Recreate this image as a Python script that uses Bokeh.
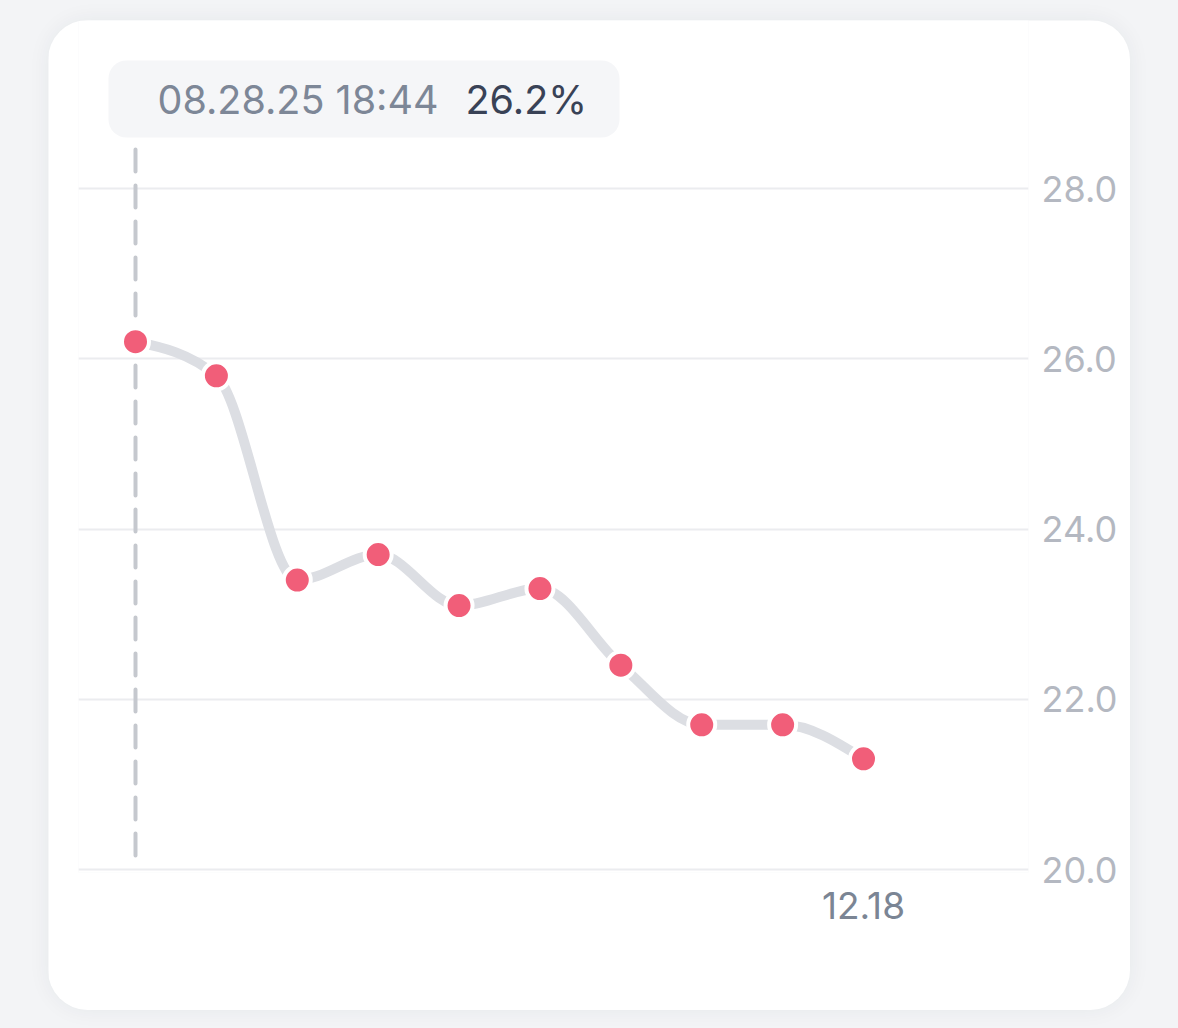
from bokeh.plotting import figure
from bokeh.models import Range1d, FixedTicker, PrintfTickFormatter, BoxAnnotation, Label
from bokeh.layouts import column
from bokeh.embed import file_html
from bokeh.resources import INLINE

# ---------------- data ----------------
values = [26.2, 25.8, 23.4, 23.7, 23.1, 23.3, 22.4, 21.7, 21.7, 21.3]
point_index = list(range(len(values)))
x_tick_labels = {9: "12.18"}
y_ticks = [20, 22, 24, 26, 28]
selected_index = 0
selected_time = "08.28.25 18:44"

# ---------------- layout constants (pixels) ----------------
FIG_W, FIG_H = 1082, 990
BORDER_L, BORDER_R, BORDER_T, BORDER_B = 30, 102, 0, 138
FRAME_W = FIG_W - BORDER_L - BORDER_R
FRAME_H = FIG_H - BORDER_T - BORDER_B
PX_X = 80.89          # pixels per index step
PX_Y = 85.125         # pixels per value unit
FIRST_PT_OFF = 57     # first point distance from frame left
BASE_OFF = 3          # gridline 20 distance above frame bottom

x_start = point_index[0] - FIRST_PT_OFF / PX_X
y_start = y_ticks[0] - BASE_OFF / PX_Y

FONT = "Inter"

p = figure(width=FIG_W, height=FIG_H, output_backend="svg", toolbar_location=None,
           x_range=Range1d(x_start, x_start + FRAME_W / PX_X),
           y_range=Range1d(y_start, y_start + FRAME_H / PX_Y),
           y_axis_location="right",
           min_border_left=BORDER_L, min_border_right=BORDER_R,
           min_border_top=BORDER_T, min_border_bottom=BORDER_B,
           background_fill_color="white", border_fill_color="white",
           outline_line_color=None)
p.margin = (20, 48, 18, 48)
p.styles = {"border-radius": "40px", "overflow": "hidden",
            "box-shadow": "0 0 22px rgba(40,50,70,0.06)"}

# grid
p.xgrid.grid_line_color = None
p.ygrid.ticker = FixedTicker(ticks=y_ticks)
p.ygrid.grid_line_color = "#ebecef"
p.ygrid.grid_line_width = 2

# y axis (right)
yax = p.yaxis[0]
yax.ticker = FixedTicker(ticks=y_ticks)
yax.formatter = PrintfTickFormatter(format="%.1f")
yax.axis_line_color = None
yax.major_tick_line_color = None
yax.minor_tick_line_color = None
yax.major_tick_out = 0
yax.major_tick_in = 0
yax.major_label_standoff = 13
yax.major_label_text_font = FONT
yax.major_label_text_font_size = "36px"
yax.major_label_text_color = "#b4b8c1"

# x axis
xax = p.xaxis[0]
xax.ticker = FixedTicker(ticks=list(x_tick_labels.keys()))
xax.major_label_overrides = x_tick_labels
xax.axis_line_color = None
xax.major_tick_line_color = None
xax.minor_tick_line_color = None
xax.major_tick_out = 0
xax.major_tick_in = 0
xax.major_label_standoff = 19
xax.major_label_text_font = FONT
xax.major_label_text_font_size = "37px"
xax.major_label_text_color = "#7b8594"

# ---------------- smooth line (monotone cubic) ----------------
def sgn(v):
    return -1.0 if v < 0 else 1.0

n = len(values)
xs = point_index
tang = [0.0] * n
for i in range(1, n - 1):
    h0 = xs[i] - xs[i - 1]
    h1 = xs[i + 1] - xs[i]
    s0 = (values[i] - values[i - 1]) / h0
    s1 = (values[i + 1] - values[i]) / h1
    pp = (s0 * h1 + s1 * h0) / (h0 + h1)
    tang[i] = (sgn(s0) + sgn(s1)) * min(abs(s0), abs(s1), 0.5 * abs(pp))
h = xs[1] - xs[0]
tang[0] = (3 * (values[1] - values[0]) / h - tang[1]) / 2
h = xs[-1] - xs[-2]
tang[-1] = (3 * (values[-1] - values[-2]) / h - tang[-2]) / 2

bx0, by0, bx1, by1, cx0, cy0, cx1, cy1 = [], [], [], [], [], [], [], []
for i in range(n - 1):
    h = xs[i + 1] - xs[i]
    bx0.append(xs[i]); by0.append(values[i])
    bx1.append(xs[i + 1]); by1.append(values[i + 1])
    cx0.append(xs[i] + h / 3); cy0.append(values[i] + h * tang[i] / 3)
    cx1.append(xs[i + 1] - h / 3); cy1.append(values[i + 1] - h * tang[i + 1] / 3)

# dashed selection line
sel_x = point_index[selected_index]
p.segment(x0=[sel_x], x1=[sel_x],
          y0=[y_ticks[0] + 14 / PX_Y], y1=[y_ticks[-1] + 40 / PX_Y],
          line_color="#c5c8ce", line_width=4, line_dash="22 14", line_cap="round")

p.bezier(x0=bx0, y0=by0, x1=bx1, y1=by1, cx0=cx0, cy0=cy0, cx1=cx1, cy1=cy1,
         line_color="#dcdee3", line_width=10, line_cap="round")

p.scatter(point_index, values, size=27, fill_color="#f15e79",
          line_color="white", line_width=4)

# ---------------- tooltip ----------------
box = BoxAnnotation(left=sel_x - 27 / PX_X, right=sel_x + 484 / PX_X,
                    top=y_ticks[0] + 809 / PX_Y, bottom=y_ticks[0] + 732 / PX_Y,
                    fill_color="#f5f6f8", fill_alpha=1, line_color=None,
                    border_radius=18)
p.add_layout(box)
text_y = y_ticks[0] + 770 / PX_Y
p.add_layout(Label(x=sel_x + 22 / PX_X, y=text_y, text=selected_time,
                   text_font=FONT, text_font_size="39.5px", text_color="#7d8797",
                   text_baseline="middle"))
p.add_layout(Label(x=sel_x + 330 / PX_X, y=text_y,
                   text=f"{values[selected_index]:.1f}%",
                   text_font=FONT, text_font_size="39.5px", text_color="#394256",
                   text_baseline="middle"))

page = column(p, width=1178, height=1028,
              styles={"background-color": "#f3f4f6"})

open("out.html", "w").write(file_html(page, INLINE))
